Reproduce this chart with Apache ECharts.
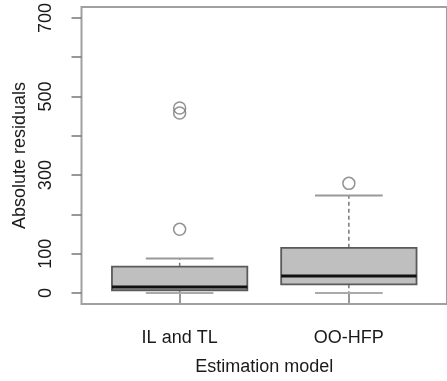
<!DOCTYPE html>
<html>
<head>
<meta charset="utf-8">
<script src="https://cdn.jsdelivr.net/npm/echarts@6/dist/echarts.min.js"></script>
<style>html,body{margin:0;padding:0;background:#fff}#c{width:447px;height:381px}</style>
</head>
<body>
<div id="c"></div>
<script>
var categories = ['IL and TL', 'OO-HFP'];
var lowerWhisker = [0, 0];
var q1 = [7, 22];
var median = [15, 43];
var q3 = [67, 115];
var upperWhisker = [88, 248];
var outlierGroup = [1, 1, 1, 2];
var outlierValue = [162, 458, 471, 279];
var yTicks = [0, 100, 200, 300, 400, 500, 600, 700];
var yLabels = [0, 100, 300, 500, 700];

var boxData = categories.map(function (c, i) {
  return [i + 1, lowerWhisker[i], q1[i], median[i], q3[i], upperWhisker[i]];
});
var outData = outlierGroup.map(function (g, i) { return [g, outlierValue[i]]; });

var FONT = 'Liberation Sans, Arial, sans-serif';
var chart = echarts.init(document.getElementById('c'), null, {renderer: 'canvas'});
chart.setOption({
  animation: false,
  backgroundColor: '#fff',
  grid: {left: 81.5, top: 4.8, right: -4.9, bottom: 74.9, show: true, borderColor: '#a0a0a0', borderWidth: 2, containLabel: false},
  xAxis: {
    type: 'value', min: 0.42, max: 2.58,
    splitLine: {show: false},
    axisLine: {show: false},
    axisTick: {show: true, length: 10, lineStyle: {color: '#777', width: 1.5}, customValues: [1, 2]},
    axisLabel: {customValues: [1, 2], margin: 25, fontSize: 18, fontFamily: FONT, color: '#1a1a1a',
      formatter: function (v) { return categories[Math.round(v) - 1]; }},
    name: 'Estimation model', nameLocation: 'middle', nameGap: 54,
    nameTextStyle: {fontSize: 18, fontFamily: FONT, color: '#1a1a1a'}
  },
  yAxis: {
    type: 'value', min: -28, max: 728,
    splitLine: {show: false},
    axisLine: {show: false},
    axisTick: {show: true, length: 10, lineStyle: {color: '#777', width: 1.5}, customValues: yTicks},
    axisLabel: {customValues: yLabels, rotate: 90, margin: 26, fontSize: 18, fontFamily: FONT, color: '#1a1a1a'},
    name: 'Absolute residuals', nameLocation: 'middle', nameGap: 52, nameRotate: 90,
    nameTextStyle: {fontSize: 18, fontFamily: FONT, color: '#1a1a1a'}
  },
  series: [
    {
      type: 'custom',
      data: boxData,
      renderItem: function (params, api) {
        var x = api.value(0);
        var lw = api.value(1), a = api.value(2), m = api.value(3), b = api.value(4), uw = api.value(5);
        var pL = api.coord([x - 0.4, a]), pR = api.coord([x + 0.4, b]);
        var sL = api.coord([x - 0.2, uw]), sR = api.coord([x + 0.2, uw]);
        var tL = api.coord([x - 0.2, lw]), tR = api.coord([x + 0.2, lw]);
        var c = api.coord([x, 0]);
        var yq1 = api.coord([x, a])[1], yq3 = api.coord([x, b])[1], ym = api.coord([x, m])[1];
        var yuw = api.coord([x, uw])[1], ylw = api.coord([x, lw])[1];
        var cx = c[0];
        return {
          type: 'group',
          children: [
            {type: 'line', shape: {x1: cx, y1: yq3, x2: cx, y2: yuw}, style: {stroke: '#777', lineWidth: 1.5, lineDash: [4, 3]}},
            {type: 'line', shape: {x1: cx, y1: yq1, x2: cx, y2: ylw}, style: {stroke: '#777', lineWidth: 1.5, lineDash: [4, 3]}},
            {type: 'line', shape: {x1: sL[0], y1: yuw, x2: sR[0], y2: yuw}, style: {stroke: '#999', lineWidth: 2}},
            {type: 'line', shape: {x1: tL[0], y1: ylw, x2: tR[0], y2: ylw}, style: {stroke: '#aaa', lineWidth: 2}},
            {type: 'rect', shape: {x: pL[0], y: yq3, width: pR[0] - pL[0], height: yq1 - yq3},
              style: {fill: '#bfbfbf', stroke: '#5a5a5a', lineWidth: 1.8}},
            {type: 'line', shape: {x1: pL[0], y1: ym, x2: pR[0], y2: ym}, style: {stroke: '#111', lineWidth: 3}}
          ]
        };
      }
    },
    {
      type: 'scatter',
      data: outData,
      symbol: 'circle',
      symbolSize: 12,
      itemStyle: {color: 'rgba(0,0,0,0)', borderColor: '#777', borderWidth: 1.5}
    }
  ]
});
</script>
</body>
</html>
